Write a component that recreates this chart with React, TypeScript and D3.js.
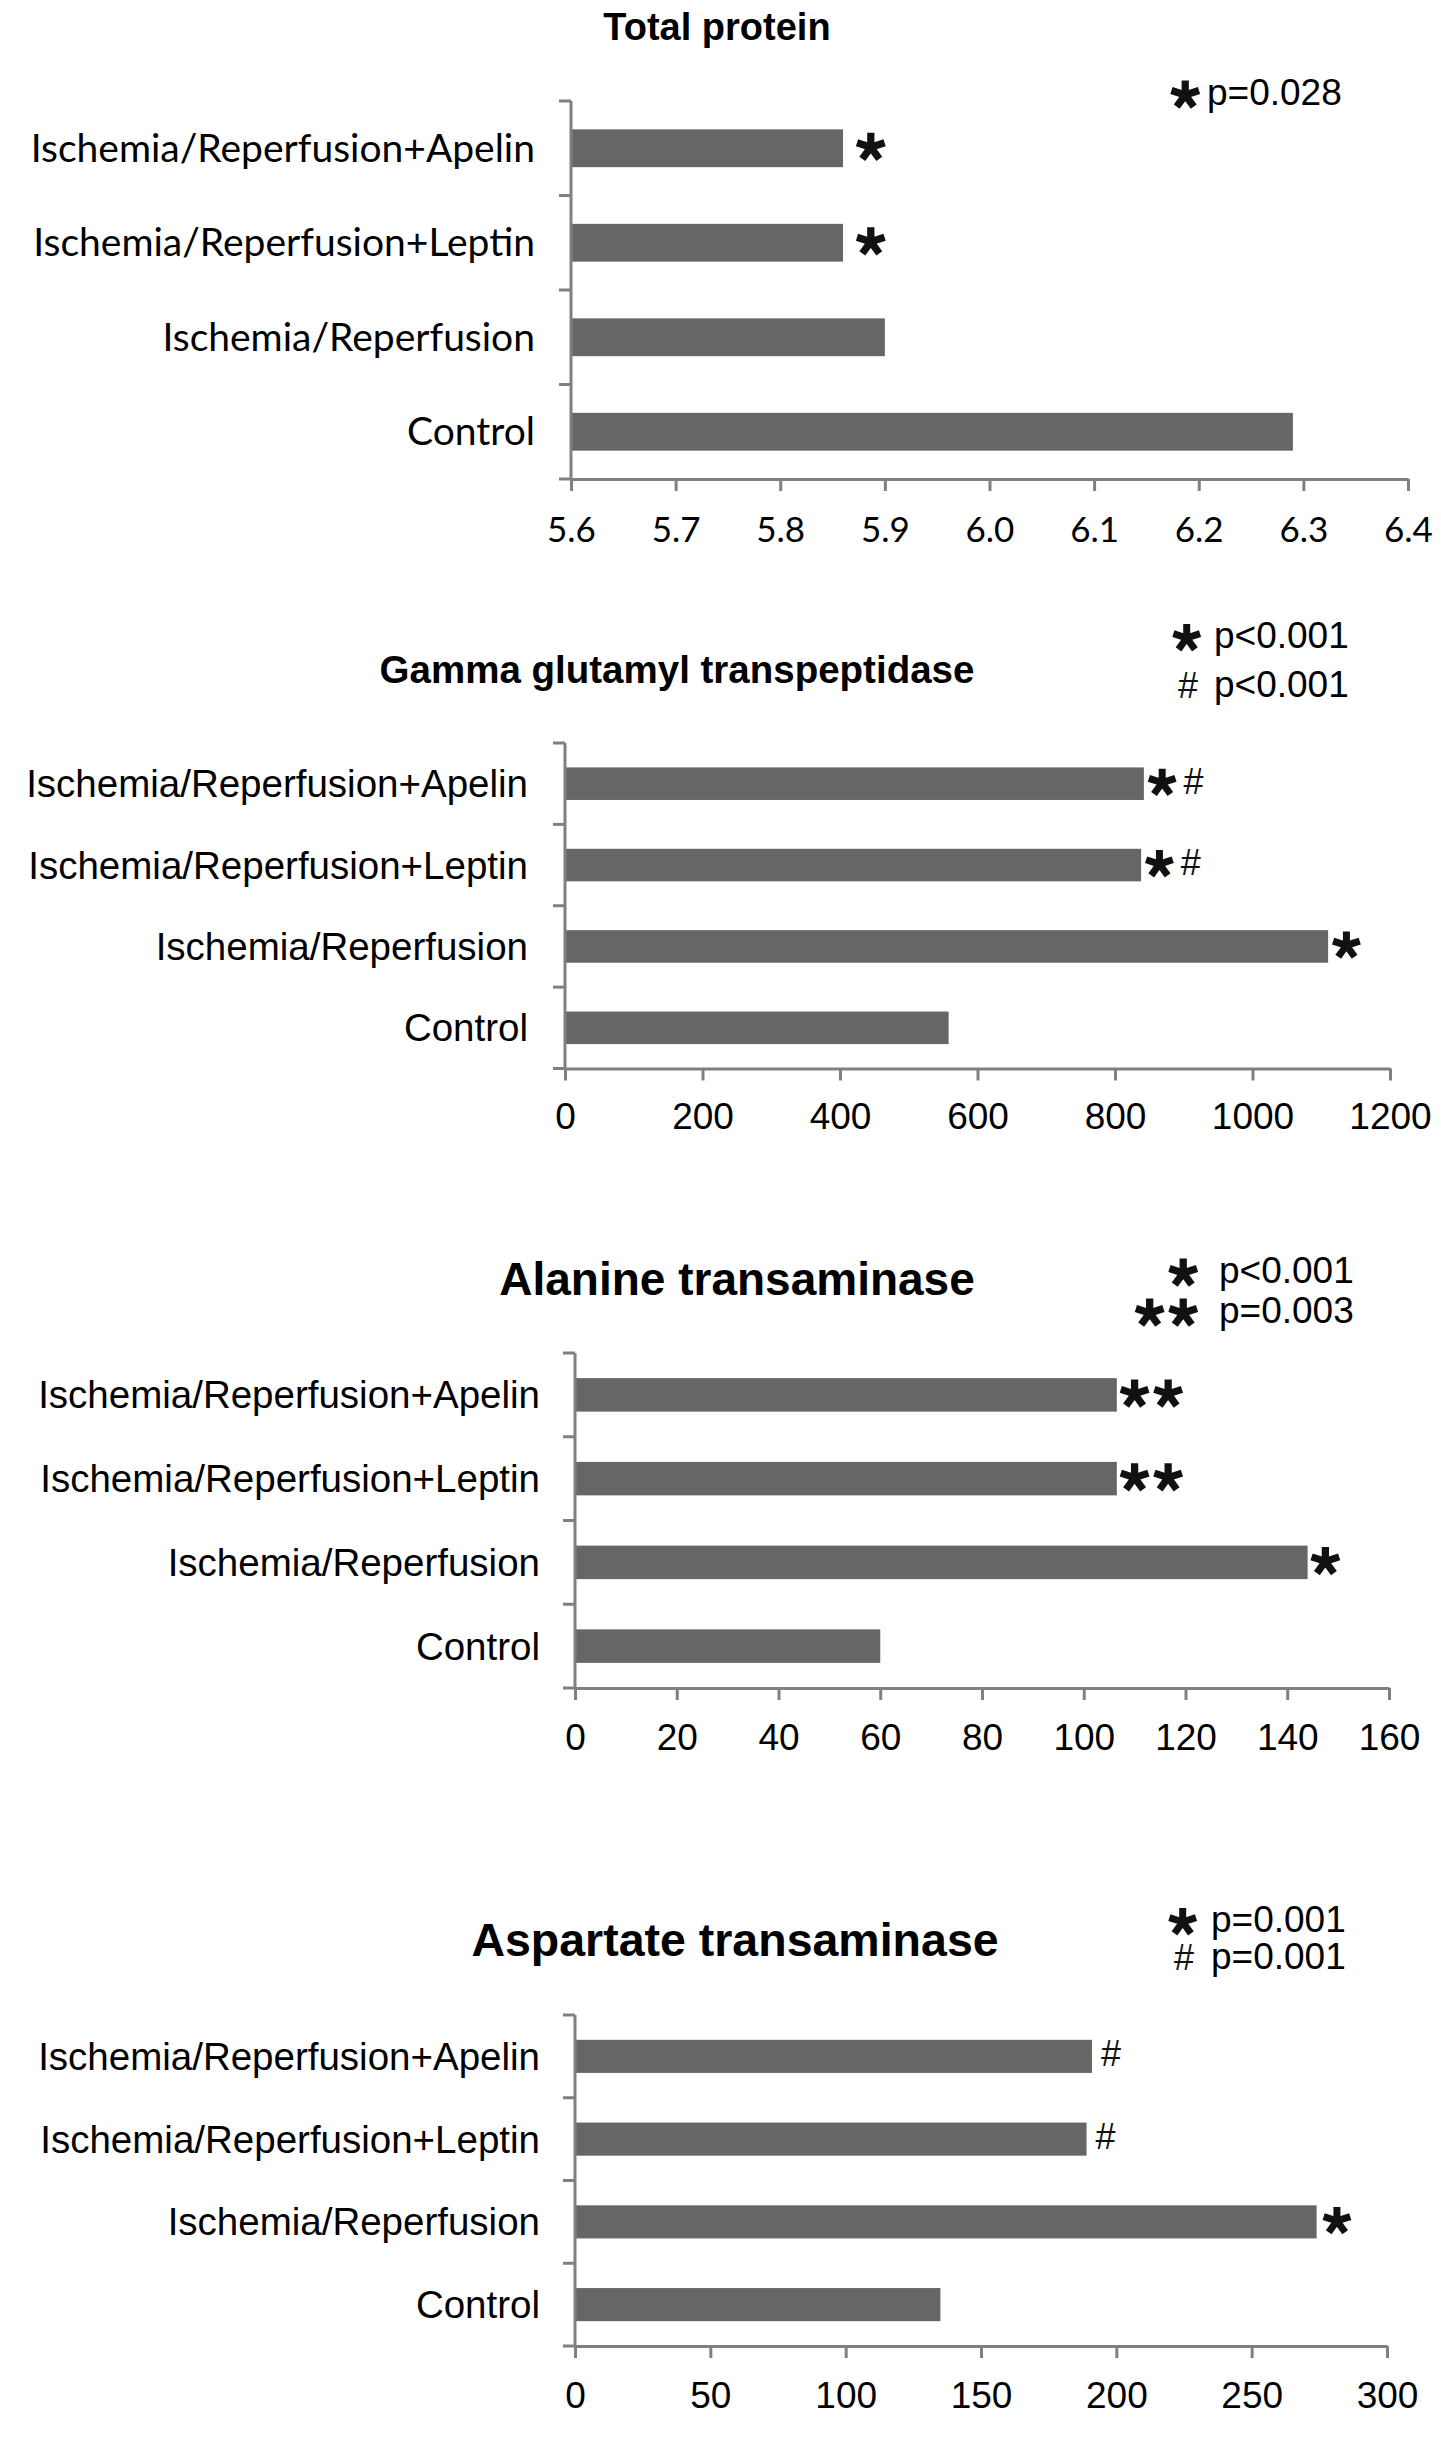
import React, { useEffect, useRef } from 'react';
import * as d3 from 'd3';

// groups, top to bottom as drawn
const categories = [
  'Ischemia/Reperfusion+Apelin',
  'Ischemia/Reperfusion+Leptin',
  'Ischemia/Reperfusion',
  'Control'
];

// values
const totalProtein = [5.86, 5.86, 5.9, 6.29];
const ggt = [842, 838, 1110, 558];
const alt = [106.5, 106.5, 144, 60];
const ast = [191, 189, 274, 135];

// axis ticks
const tpTicks = [5.6, 5.7, 5.8, 5.9, 6.0, 6.1, 6.2, 6.3, 6.4];
const ggtTicks = [0, 200, 400, 600, 800, 1000, 1200];
const altTicks = [0, 20, 40, 60, 80, 100, 120, 140, 160];
const astTicks = [0, 50, 100, 150, 200, 250, 300];

// significance marks next to each bar
const tpMarks = ['*', '*', '', ''];
const ggtMarks = ['*#', '*#', '*', ''];
const altMarks = ['**', '**', '*', ''];
const astMarks = ['#', '#', '*', ''];

// legend lines: symbol, text
const tpLegend = [['*', 'p=0.028']];
const ggtLegend = [['*', 'p<0.001'], ['#', 'p<0.001']];
const altLegend = [['*', 'p<0.001'], ['**', 'p=0.003']];
const astLegend = [['*', 'p=0.001'], ['#', 'p=0.001']];

const AXIS = '#808080';
const BAR = '#666666';
const SANS = '"Liberation Sans", Arial, Helvetica, sans-serif';
const CAL = 'Lato, "Open Sans", sans-serif';

interface Layout {
  x0: number; x1: number; yTop: number; yBot: number;
  titleX: number; titleY: number; titleSize: number;
  tickBase: number; tickSize: number; tickFont: string;
  catRight: number; catSize: number; catFont: string;
  markGap: number; starR: number;
  legSymRight: number; legTextX: number; legBase: number[]; legStarR: number;
}

const starPath = (cx: number, cy: number, r: number) =>
  [-90, -18, 54, 126, 198]
    .map(a => {
      const t = (a * Math.PI) / 180;
      return `M${cx},${cy}L${cx + r * Math.cos(t)},${cy + r * Math.sin(t)}`;
    })
    .join('');

const HASH_W = 22;
const HASH_SIZE = 36;

// draws a run of "*" and "#" starting at x, centred on cy
function drawMarks(str: string, x: number, cy: number, r: number, key: string) {
  const out: JSX.Element[] = [];
  let cur = x;
  str.split('').forEach((ch, i) => {
    if (ch === '*') {
      const w = 1.9 * r;
      out.push(
        <path key={key + i} d={starPath(cur + w / 2, cy, r)} stroke="#111" strokeWidth={r * 0.5} fill="none" />
      );
      cur += w + 6;
    } else {
      out.push(
        <text key={key + i} x={cur + 2} y={cy + 11} fontFamily={SANS} fontSize={HASH_SIZE} fill="#111">#</text>
      );
      cur += HASH_W + 6;
    }
  });
  return out;
}

const marksWidth = (str: string, r: number) =>
  str.split('').reduce((s, ch) => s + (ch === '*' ? 1.9 * r : HASH_W + 2) + 6, 0) - 6;

interface PanelProps {
  title: string;
  values: number[];
  ticks: number[];
  format: (d: number) => string;
  marks: string[];
  legend: string[][];
  L: Layout;
}

const Panel: React.FC<PanelProps> = ({ title, values, ticks, format, marks, legend, L }) => {
  const axisRef = useRef<SVGGElement>(null);

  const x = d3.scaleLinear()
    .domain([ticks[0], ticks[ticks.length - 1]])
    .range([L.x0, L.x1]);

  const y = d3.scaleBand()
    .domain(categories)
    .range([L.yTop, L.yBot])
    .paddingInner(0.6)
    .paddingOuter(0.3);

  useEffect(() => {
    if (!axisRef.current) return;
    const g = d3.select(axisRef.current);
    g.selectAll('*').remove();
    g.call(
      d3.axisBottom(x)
        .tickValues(ticks)
        .tickSize(12)
        .tickSizeOuter(0)
        .tickFormat(d => format(d as number))
    );
    g.attr('font-size', null).attr('font-family', null);
    g.select('.domain').attr('stroke', AXIS).attr('stroke-width', 3);
    g.selectAll('.tick line').attr('stroke', AXIS).attr('stroke-width', 3);
    g.selectAll('.tick text')
      .attr('y', L.tickBase - L.yBot)
      .attr('dy', 0)
      .attr('fill', '#000')
      .style('font-family', L.tickFont)
      .style('font-size', L.tickSize + 'px');
  }, [ticks, L]);

  const bounds = d3.range(categories.length + 1).map(i => L.yTop + i * y.step());

  return (
    <g>
      <text x={L.titleX} y={L.titleY} textAnchor="middle" fontFamily={SANS} fontWeight="bold"
        fontSize={L.titleSize} fill="#000">{title}</text>

      {categories.map((c, i) => {
        const cy = (y(c) as number) + y.bandwidth() / 2;
        const end = x(values[i]);
        return (
          <g key={c}>
            <rect x={L.x0} y={y(c)} width={end - L.x0} height={y.bandwidth()} fill={BAR} />
            <text x={L.catRight} y={cy + L.catSize * 0.35} textAnchor="end" fontFamily={L.catFont}
              fontSize={L.catSize} fill="#000">{c}</text>
            {drawMarks(marks[i], end + L.markGap, cy - 1, L.starR, 'm' + i)}
          </g>
        );
      })}

      <line x1={L.x0} x2={L.x0} y1={L.yTop} y2={L.yBot} stroke={AXIS} strokeWidth={3} />
      {bounds.map((b, i) => (
        <line key={i} x1={L.x0 - 12} x2={L.x0} y1={b} y2={b} stroke={AXIS} strokeWidth={3} />
      ))}
      <g ref={axisRef} transform={`translate(0,${L.yBot})`} />

      {legend.map(([sym, txt], i) => (
        <g key={'l' + i}>
          {drawMarks(sym, L.legSymRight - marksWidth(sym, L.legStarR), L.legBase[i] - 10, L.legStarR, 'lg' + i)}
          <text x={L.legTextX} y={L.legBase[i]} fontFamily={SANS} fontSize={37} fill="#000">{txt}</text>
        </g>
      ))}
    </g>
  );
};

const tpLayout: Layout = {
  x0: 571, x1: 1408, yTop: 101, yBot: 479,
  titleX: 717, titleY: 40, titleSize: 38,
  tickBase: 542, tickSize: 35, tickFont: CAL,
  catRight: 535, catSize: 39, catFont: CAL,
  markGap: 14, starR: 14.5,
  legSymRight: 1199, legTextX: 1207, legBase: [105], legStarR: 14.5
};

const ggtLayout: Layout = {
  x0: 565, x1: 1390, yTop: 743, yBot: 1068.5,
  titleX: 677, titleY: 683, titleSize: 38.5,
  tickBase: 1129, tickSize: 37, tickFont: SANS,
  catRight: 528, catSize: 38.5, catFont: SANS,
  markGap: 5, starR: 14,
  legSymRight: 1200, legTextX: 1214, legBase: [648, 697], legStarR: 14
};

const altLayout: Layout = {
  x0: 575, x1: 1389, yTop: 1353, yBot: 1688,
  titleX: 737, titleY: 1295, titleSize: 46,
  tickBase: 1750, tickSize: 37, tickFont: SANS,
  catRight: 540, catSize: 38.5, catFont: SANS,
  markGap: 4, starR: 14.5,
  legSymRight: 1197, legTextX: 1219, legBase: [1283, 1323], legStarR: 14.5
};

const astLayout: Layout = {
  x0: 575, x1: 1387, yTop: 2015, yBot: 2346,
  titleX: 735, titleY: 1956, titleSize: 46.5,
  tickBase: 2408, tickSize: 37, tickFont: SANS,
  catRight: 540, catSize: 38.5, catFont: SANS,
  markGap: 7, starR: 14,
  legSymRight: 1196, legTextX: 1211, legBase: [1932, 1969], legStarR: 14
};

const fmt1 = d3.format('.1f');
const fmt0 = d3.format('d');

export default function App() {
  return (
    <svg width={1441} height={2450} style={{ position: 'absolute', left: 0, top: 0, background: '#fff' }}>
      <rect width={1441} height={2450} fill="#fff" />
      <Panel title="Total protein" values={totalProtein} ticks={tpTicks} format={fmt1}
        marks={tpMarks} legend={tpLegend} L={tpLayout} />
      <Panel title="Gamma glutamyl transpeptidase" values={ggt} ticks={ggtTicks} format={fmt0}
        marks={ggtMarks} legend={ggtLegend} L={ggtLayout} />
      <Panel title="Alanine transaminase" values={alt} ticks={altTicks} format={fmt0}
        marks={altMarks} legend={altLegend} L={altLayout} />
      <Panel title="Aspartate transaminase" values={ast} ticks={astTicks} format={fmt0}
        marks={astMarks} legend={astLegend} L={astLayout} />
    </svg>
  );
}
